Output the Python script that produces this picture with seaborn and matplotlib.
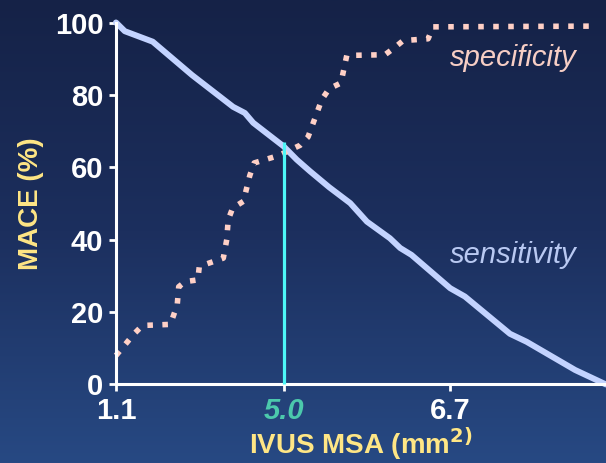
import numpy as np
import pandas as pd
import matplotlib
matplotlib.use("Agg")
import matplotlib.pyplot as plt
import seaborn as sns
from matplotlib.colors import LinearSegmentedColormap

# Position along the ranked IVUS MSA cut-off axis (0-100) and curve values (%)
sens_pos = [0, 1.8, 7.5, 15.5, 23.9, 26.3, 28.0, 34.2, 36.9, 39.6, 43.5, 47.8,
            51.2, 55.9, 58.0, 60.3, 68.2, 71.2, 80.4, 83.8, 93.7, 100]
sens_val = [100, 97.6, 94.7, 85.5, 76.7, 75.0, 72.3, 65.8, 62.1, 58.9, 54.5, 50.1,
            45.0, 40.4, 37.7, 35.8, 26.6, 24.3, 14.0, 11.8, 4.0, 0]

spec_pos = [0, 3.7, 5.4, 11.1, 12.5, 12.8, 14.1, 16.7, 17.0, 21.9, 22.6, 22.9,
            23.8, 26.0, 27.3, 28.2, 33.1, 37.6, 39.2, 42.0, 43.5, 45.9, 47.1,
            54.9, 56.8, 58.6, 63.7, 64.7, 97.3]
spec_val = [8.0, 14.0, 16.3, 16.6, 22.0, 27.0, 28.4, 28.9, 32.6, 34.9, 40.0, 45.5,
            48.7, 50.6, 57.7, 61.2, 63.2, 66.1, 68.4, 78.7, 81.7, 83.3, 90.9,
            91.1, 93.0, 95.0, 95.5, 98.8, 99.0]

x_tick_pos = [0, 34.3, 68.2]
x_tick_labels = ["1.1", "5.0", "6.7"]
y_ticks = [0, 20, 40, 60, 80, 100]

cutoff_pos = 34.3     # MSA cut-off 5.0 mm²
cutoff_top = 67       # sensitivity / specificity crossing

sns.set_theme(style="white")
plt.rcParams["font.family"] = ["Liberation Sans", "DejaVu Sans"]

fig = plt.figure(figsize=(6.06, 4.63), dpi=100)

# dark blue vertical gradient backdrop
bg = fig.add_axes([0, 0, 1, 1], zorder=0)
grad = np.linspace(0, 1, 256).reshape(-1, 1)
cmap = LinearSegmentedColormap.from_list(
    "backdrop", ["#152247", "#1C2F5E", "#274983"])
bg.imshow(grad, aspect="auto", cmap=cmap, extent=[0, 1, 0, 1], origin="upper")
bg.axis("off")

ax = fig.add_axes([0.1914, 0.1696, 0.8086, 0.7818], zorder=1)
ax.patch.set_alpha(0)

sens_df = pd.DataFrame({"pos": sens_pos, "value": sens_val})
spec_df = pd.DataFrame({"pos": spec_pos, "value": spec_val})

sns.lineplot(data=sens_df, x="pos", y="value", ax=ax, estimator=None, sort=False,
             color="#C3D3FF", lw=4.3, clip_on=False, zorder=3)
sns.lineplot(data=spec_df, x="pos", y="value", ax=ax, estimator=None, sort=False,
             color="#FFD0C6", lw=4.0, linestyle=(0, (1, 1.7)),
             dash_capstyle="butt", clip_on=False, zorder=3)

# cut-off marker
ax.plot([cutoff_pos, cutoff_pos], [0, cutoff_top], color="#4DF7F7", lw=2.3,
        solid_capstyle="butt", zorder=5, clip_on=False)

ax.set_xlim(0, 100)
ax.set_ylim(0, 100)

for side in ["top", "right"]:
    ax.spines[side].set_visible(False)
for side in ["left", "bottom"]:
    ax.spines[side].set_color("white")
    ax.spines[side].set_linewidth(2.2)
    ax.spines[side].set_zorder(4)

ax.set_yticks(y_ticks)
ax.set_yticklabels([str(v) for v in y_ticks])
ax.set_xticks(x_tick_pos)
ax.set_xticklabels(x_tick_labels)
ax.tick_params(axis="both", which="major", direction="out", length=5, width=2,
               color="white", labelcolor="white", labelsize=21, left=True, bottom=True)
ax.tick_params(axis="y", pad=4)
ax.tick_params(axis="x", pad=4)
for lab in ax.get_yticklabels() + ax.get_xticklabels():
    lab.set_fontweight("bold")

cut_lab = ax.get_xticklabels()[1]
cut_lab.set_color("#4CC9AC")
cut_lab.set_fontstyle("italic")
ax.xaxis.get_major_ticks()[1].tick1line.set_color("#4DF7F7")

ax.set_xlabel("IVUS MSA (mm$^{\\mathbf{2)}}$", color="#FFE685", fontsize=20,
              fontweight="bold", labelpad=0)
ax.set_ylabel("MACE (%)", color="#FFE685", fontsize=20, fontweight="bold",
              labelpad=8)
ax.grid(False)

ax.text(81, 90.3, "specificity", color="#F7CEC5", fontsize=21, style="italic",
        ha="center", va="center")
ax.text(81, 35.8, "sensitivity", color="#B9C9F2", fontsize=21, style="italic",
        ha="center", va="center")

fig.savefig("out.png", dpi=100)
